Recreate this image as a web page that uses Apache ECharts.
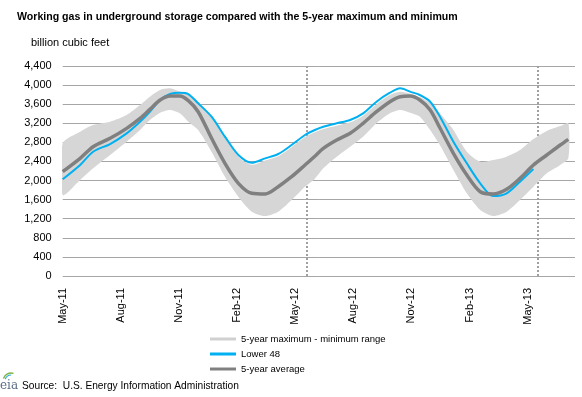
<!DOCTYPE html>
<html>
<head>
<meta charset="utf-8">
<script src="https://cdn.jsdelivr.net/npm/echarts@6.0.0/dist/echarts.min.js"></script>
<style>
  html, body { margin: 0; padding: 0; background: #fff; }
  #main { width: 582px; height: 397px; }
</style>
</head>
<body>
<div id="main"></div>
<script>
// weeks since first week of May 2011
var weeks = [0, 3.9, 6.8, 10.6, 14.3, 17.3, 19.5, 21.8, 24, 26.2, 28.1, 30.3, 33.3, 36.3, 39.3, 42.3, 45.3, 48.2, 51.2, 54.2,
  56.4, 58.3, 61.3, 64.3, 67.2, 70.2, 73.2, 75.5, 77.7, 79.9, 82.2, 84.4, 87.4, 90.4, 93.4, 96.3, 99.3, 102.3, 105.3, 108.3,
  111.3, 113.1]

// billion cubic feet
var lower48 = [2026, 2325, 2604, 2765, 2989, 3233, 3442, 3687, 3813, 3840, 3813, 3618, 3338, 2919, 2535, 2374, 2465, 2556, 2744, 2954,
  3059, 3128, 3199, 3268, 3408, 3652, 3840, 3932, 3862, 3792, 3652, 3338, 2814, 2361, 1942, 1676, 1733, 1976, 2240, null,
  null, null]
var avg5 = [2185, 2465, 2709, 2885, 3094, 3303, 3492, 3687, 3771, 3771, 3673, 3442, 2885, 2361, 1942, 1733, 1718, 1871, 2080, 2325,
  2510, 2675, 2849, 2989, 3199, 3442, 3652, 3757, 3771, 3687, 3478, 3100, 2570, 2116, 1766, 1718, 1816, 2046, 2325, 2535,
  2744, 2863]
var bandMax = [2780, 3024, 3164, 3233, 3373, 3582, 3757, 3897, 3932, 3862, 3800, 3650, 3338, 2940, 2500, 2330, 2420, 2510, 2700, 2910,
  3010, 3080, 3150, 3220, 3360, 3600, 3790, 3860, 3820, 3750, 3620, 3408, 3059, 2604, 2395, 2430, 2500, 2640, 2870, 3040,
  3142, 3199]
var bandMin = [1697, 2011, 2256, 2535, 2814, 3059, 3268, 3421, 3478, 3408, 3233, 3059, 2604, 2080, 1662, 1347, 1257, 1347, 1592, 1871,
  2040, 2256, 2500, 2709, 2919, 3199, 3408, 3478, 3420, 3338, 3059, 2740, 2221, 1733, 1383, 1257, 1347, 1592, 1871, 2151,
  2325, 2465]

var quarterLabels = ['May-11', 'Aug-11', 'Nov-11', 'Feb-12', 'May-12', 'Aug-12', 'Nov-12', 'Feb-13', 'May-13']
var yearMarks = [54.6, 106.3]

var FONT = 'Liberation Sans, Arial, sans-serif'

function pairs(vals) {
  return weeks.map(function (w, i) { return [w, vals[i]] })
}

var chart = echarts.init(document.getElementById('main'), null, { renderer: 'canvas' })

// grey band: one polygon, max edge forward then min edge back
function renderBand(params, api) {
  if (params.dataIndex !== 0) return
  var top = weeks.map(function (w, i) { return api.coord([w, bandMax[i]]) })
  var bottom = weeks.map(function (w, i) { return api.coord([w, bandMin[i]]) }).reverse()
  return {
    type: 'polygon',
    shape: { points: top.concat(bottom), smooth: 0.25 },
    style: { fill: '#d6d6d6' }
  }
}

var option = {
  animation: false,
  title: {
    text: 'Working gas in underground storage compared with the 5-year maximum and minimum',
    left: 17,
    top: 12,
    padding: 0,
    textStyle: { fontSize: 10.6, fontWeight: 'bold', color: '#000', fontFamily: FONT }
  },
  grid: { left: 62.7, right: 7, top: 66, bottom: 121, containLabel: false, outerBoundsMode: 'none' },
  legend: {
    orient: 'vertical',
    left: 210,
    top: 333,
    padding: 0,
    itemWidth: 26,
    itemHeight: 3,
    itemGap: 3,
    textStyle: { fontSize: 9.5, lineHeight: 12, color: '#000', fontFamily: FONT },
    data: [
      { name: '5-year maximum - minimum range', icon: 'rect', itemStyle: { color: '#d0d0d0' } },
      { name: 'Lower 48', icon: 'rect', itemStyle: { color: '#00b0f0' } },
      { name: '5-year average', icon: 'rect', itemStyle: { color: '#808080' } }
    ]
  },
  xAxis: {
    type: 'value',
    min: 0,
    max: 114.6,
    interval: 13,
    axisLine: { show: false },
    axisTick: { show: false },
    splitLine: { show: false },
    axisLabel: {
      rotate: 90,
      margin: 12,
      fontSize: 11,
      color: '#000',
      fontFamily: FONT,
      showMaxLabel: false,
      formatter: function (v) {
        var i = Math.round(v / 13)
        if (Math.abs(v - i * 13) > 0.01) return ''
        return quarterLabels[i] || ''
      }
    }
  },
  yAxis: {
    type: 'value',
    min: 0,
    max: 4400,
    interval: 400,
    axisLine: { show: false },
    axisTick: { show: false },
    axisLabel: {
      margin: 11,
      fontSize: 11,
      color: '#000',
      fontFamily: FONT,
      formatter: function (v) { return v.toLocaleString('en-US') }
    },
    splitLine: { lineStyle: { color: '#a6a6a6', width: 1 } }
  },
  graphic: [
    {
      type: 'text', left: 31, top: 37,
      style: { text: 'billion cubic feet', fontSize: 11, fill: '#000', fontFamily: FONT }
    },
    {
      type: 'text', left: 22, top: 381,
      style: { text: 'Source:  U.S. Energy Information Administration', fontSize: 10.2, fill: '#000', fontFamily: FONT }
    },
    {
      type: 'text', left: 0, top: 380,
      style: { text: 'eia', fontSize: 12, fill: '#5a6e86', fontFamily: 'DejaVu Serif, serif' }
    },
    {
      type: 'arc',
      shape: { cx: 11, cy: 381, r: 8, startAngle: Math.PI * 1.1, endAngle: Math.PI * 1.6 },
      style: { stroke: '#7cb342', lineWidth: 1.5, fill: null }
    },
    {
      type: 'arc',
      shape: { cx: 11, cy: 381, r: 6, startAngle: Math.PI * 1.1, endAngle: Math.PI * 1.5 },
      style: { stroke: '#29a8e0', lineWidth: 1.2, fill: null }
    }
  ],
  series: [
    {
      name: '5-year maximum - minimum range',
      type: 'custom',
      silent: true,
      clip: true,
      itemStyle: { color: '#d6d6d6' },
      data: weeks.map(function (w, i) { return [w, bandMin[i], bandMax[i]] }),
      encode: { x: 0, y: [1, 2] },
      renderItem: renderBand,
      markLine: {
        silent: true,
        z: 2,
        symbol: ['none', 'none'],
        label: { show: false },
        lineStyle: { color: '#a0a0a0', type: [2, 2], width: 2, opacity: 1 },
        data: yearMarks.map(function (w) { return { xAxis: w } })
      }
    },
    {
      name: 'Lower 48',
      type: 'line',
      z: 3,
      data: pairs(lower48),
      symbol: 'none',
      smooth: 0.3,
      lineStyle: { color: '#00b0f0', width: 2 },
      itemStyle: { color: '#00b0f0' }
    },
    {
      name: '5-year average',
      type: 'line',
      z: 4,
      data: pairs(avg5),
      symbol: 'none',
      smooth: 0.3,
      lineStyle: { color: '#808080', width: 3.5 },
      itemStyle: { color: '#808080' }
    }
  ]
}

chart.setOption(option)
</script>
</body>
</html>
